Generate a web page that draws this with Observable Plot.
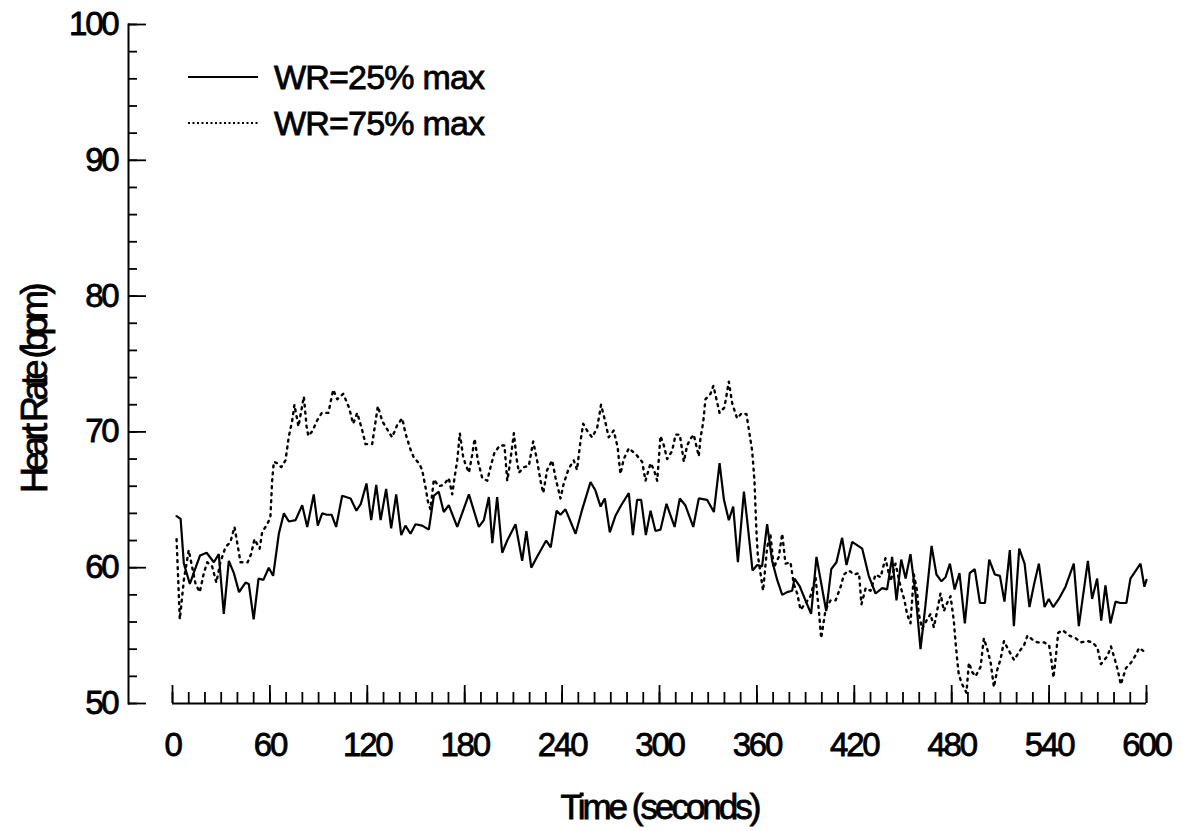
<!DOCTYPE html>
<html>
<head>
<meta charset="utf-8">
<script src="https://cdn.jsdelivr.net/npm/d3@7"></script>
<script src="https://cdn.jsdelivr.net/npm/@observablehq/plot@0.6"></script>
<style>
  body { margin: 0; background: #fff; }
  #wrap { position: relative; width: 1183px; height: 831px; background: #fff;
          font-family: "Liberation Sans", Arial, Helvetica, sans-serif; color: #000; }
  #chart svg text { letter-spacing: -2.2px; stroke: #000; stroke-width: 0.8px; }
  .leg { position: absolute; left: 188px; height: 30px; display: flex; align-items: center;
         font-size: 34px; letter-spacing: -0.8px; white-space: nowrap;
         -webkit-text-stroke: 0.8px #000; }
  .leg svg { margin-right: 16px; }
</style>
</head>
<body>
<div id="wrap">
  <div id="chart"></div>
</div>
<script>
// ---- Data ----
const seriesNames = ["WR=25% max", "WR=75% max"];

// WR = 25% max (solid line)
const time25 = [2.5,5,7,10.7,13,17,21,25.5,28.5,31.6,34.7,37.8,41,45,47,50,53,56,59.3,62,65.5,68.6,71.7,75.8,79.9,83,87,89.5,92.2,95,98,100.8,104.5,109.7,113.3,116,119.5,122.4,125.5,128.2,131.6,134.7,137.8,140.9,143.5,146.6,149.7,153.8,157.9,161,164,167.1,170.2,175.4,182.6,188.7,191.8,194.9,197,200,203.1,206.2,211.3,215.4,218,221,224.6,230.2,233,236.6,239,242.1,248.3,252.4,257.5,260.5,263.7,266.3,269.4,272.8,276.4,281.1,283.6,286.2,288.7,291.6,294.5,297.5,300.6,304.3,309.3,312.5,315.9,320.8,324.2,329.3,333.5,337,339.7,342.7,345.4,348.3,352,354,357.3,360.2,363.2,366.3,369.4,372.5,375.6,378.6,381.7,383.2,386.5,389.9,393.4,396.7,400,402.7,405.8,409,412.5,415.2,418.7,424.9,428.9,433.1,437.2,440.2,443.3,446,448.9,451.6,454.6,457.7,460.8,463.8,467.6,470.6,473.7,476.2,478.9,481.8,484.8,488.1,491.1,494.2,497.4,500.5,503.1,506.6,509.7,512.5,515.8,518.3,521.6,524.9,527.9,530.6,533.7,537.2,539.8,542.5,546,550.1,555.2,558.3,563.9,566.5,569.6,572.1,574.7,577.8,580.9,583.9,587.6,590.1,596.3,598.7,600];
const hr25 = [63.8,63.6,60.3,58.8,59.6,60.9,61.1,60.4,61.0,56.6,60.5,59.6,58.2,58.9,58.8,56.2,59.2,59.1,60.0,59.4,62.5,64.0,63.4,63.5,64.6,63.0,65.4,63.1,64.0,63.9,63.9,63.0,65.3,65.1,64.2,64.7,66.2,63.5,66.1,63.5,65.8,62.9,65.4,62.4,63.1,62.5,63.2,63.1,62.8,65.3,65.6,64.1,64.6,63.0,65.4,63.0,63.5,65.2,61.8,65.2,61.1,62.0,63.2,60.5,62.7,60.0,60.8,62.0,61.5,64.2,63.9,64.3,62.5,64.3,66.3,65.7,64.5,65.1,62.6,63.8,64.6,65.5,62.4,65.0,65.0,62.4,64.2,62.7,62.8,64.7,63.0,65.1,64.6,63.0,65.1,65.0,64.1,67.7,65.0,63.5,64.5,60.4,65.6,63.5,59.8,60.2,60.1,63.2,60.5,59.1,58.0,58.2,58.3,59.2,58.6,57.6,56.6,60.8,58.6,56.8,59.9,60.4,62.2,60.2,61.9,61.4,59.4,58.1,58.5,58.4,60.8,57.6,60.6,59.2,61.0,58.1,54.0,57.2,61.6,59.5,59.0,59.3,60.3,58.4,59.6,55.9,59.6,59.9,57.4,57.4,60.6,59.5,59.4,57.5,61.3,55.7,61.4,60.3,57.1,58.7,60.3,57.1,57.7,57.1,57.7,58.6,60.3,55.7,60.5,57.7,59.2,56.1,58.7,55.9,57.5,57.4,57.4,59.2,60.3,58.6,59.1];

// WR = 75% max (dotted line)
const time75 = [2.5,4.5,7,10,14.2,16.8,19.3,21.4,24.4,27,29.5,32.6,35.7,38.2,40.2,41.9,46.3,48.4,50.5,53.7,55.2,58.3,60.3,61.4,62.4,64.5,67,69.6,71.7,73.7,75.1,77.6,80.9,82.6,83.7,86.4,88.9,92,96,99,101.5,105.2,108.7,111.3,113.8,116.9,118.9,123,126.5,129.2,132.2,135.3,138.4,141.5,143.5,146.6,148.7,151.8,153.8,155.9,157.3,158.9,161,164,167.1,170.2,172.3,173.7,175.4,177,179,180.5,182.6,184.6,186.1,188.1,190.8,193.9,195.9,198.4,201.7,204.5,206.2,207.8,210.3,211.9,213.4,216.4,219.5,222.2,224.6,226.7,228.4,230.8,233.9,236,239,241,244.1,247.2,249.2,251.3,253,255.4,258.5,261.6,264,266.7,268.7,271.8,274.2,275.9,278,281.1,285.8,289.3,291.4,294.5,296.6,298.6,300.6,302.7,304.7,307.8,309.9,312.5,315,317,319.1,321.1,324.2,325.2,326.9,328.3,331.4,333.2,334.9,337,340,342.7,344.8,347.8,350.9,353.6,355,357.1,358.5,359.1,359.7,360.5,362.2,363.8,366.3,368.3,370.4,373.5,375.6,377.6,380.7,382.7,384.8,386.9,390,393,396.1,398.2,399.6,402.3,405.4,408.5,411.6,413.6,416.7,419.8,422.9,424.4,427,430,433.1,436.2,439.2,442.3,445.4,448.5,450.9,452.5,454.6,456.7,458.7,459.7,461.8,464.9,467,469,471,473.1,475.2,477.2,479.3,481.3,482.3,483.4,484.4,486.5,489.1,490.6,492.7,494.7,497.8,499.8,501.9,504,506,508.1,510.2,512.2,514.3,518.4,522.1,524.6,526.7,529.8,532.8,536.9,540,541.1,542.7,544.2,545.6,548.3,552.4,556.5,559.6,563.7,566.8,569.8,571.9,576,578.1,580.1,582.2,584.2,587.3,590.4,593.5,595.5,600];
const hr75 = [62.1,56.2,59.1,61.3,58.8,58.2,59.6,60.4,60.1,58.9,60.4,61.5,61.9,63.0,61.6,60.4,60.4,61.0,62.1,61.4,62.6,63.2,63.7,66.4,67.8,67.7,67.4,67.9,69.7,70.8,72.0,70.4,72.6,70.4,69.7,70.1,70.8,71.4,71.4,73.1,72.4,72.8,71.8,70.6,71.4,70.1,69.1,69.1,71.9,70.8,70.2,69.6,70.5,71.0,69.9,68.7,68.1,67.7,67.2,65.9,64.9,64.3,66.5,66.0,66.1,66.6,65.4,66.6,67.9,69.9,68.2,67.6,67.0,68.3,69.5,67.9,66.6,66.4,67.4,68.5,69.0,69.0,66.4,67.6,69.9,68.1,67.0,67.4,67.5,69.3,67.9,66.4,65.5,67.2,67.9,66.6,65.1,66.2,67.3,67.9,67.2,69.3,70.6,70.1,69.6,70.3,72.0,70.7,69.6,70.1,68.9,66.9,68.0,68.8,68.3,67.8,66.4,67.7,67.2,66.4,69.7,69.0,68.0,68.6,69.8,69.8,67.8,69.0,69.5,69.8,68.2,69.5,70.7,72.4,72.8,73.4,72.5,71.4,71.8,73.7,72.1,71.0,71.4,71.3,70.2,68.6,66.4,64.5,62.7,61.0,59.6,58.3,61.5,62.5,60.0,60.8,62.5,60.3,60.4,58.8,58.1,56.9,57.4,57.9,59.3,56.8,54.8,56.9,57.6,57.6,58.6,59.5,59.8,59.5,59.6,57.3,58.5,58.3,59.5,59.3,60.7,59.0,60.3,58.6,57.6,56.6,55.9,59.5,58.3,56.6,55.5,56.2,56.6,55.6,56.8,58.1,56.8,57.4,57.9,56.1,54.6,53.2,52.1,51.4,50.8,53.0,52.3,52.0,52.7,54.8,54.0,53.0,51.2,52.5,53.3,54.6,54.1,53.2,53.9,54.3,55.0,54.7,54.5,54.5,54.3,53.5,51.9,53.5,55.2,55.4,55.0,54.8,54.5,54.6,54.5,54.1,52.9,53.5,54.2,53.4,52.5,51.4,52.6,53.0,53.6,54.1,53.7];

// Axis ticks
const xMajorTicks = [0, 60, 120, 180, 240, 300, 360, 420, 480, 540, 600];
const xMinorTicks = [0,10,20,30,40,50,60,70,80,90,100,110,120,130,140,150,160,170,180,190,200,210,220,230,240,250,260,270,280,290,300,310,320,330,340,350,360,370,380,390,400,410,420,430,440,450,460,470,480,490,500,510,520,530,540,550,560,570,580,590,600];
const yMajorTicks = [50, 60, 70, 80, 90, 100];
const yMinorTicks = [50,52,54,56,58,60,62,64,66,68,70,72,74,76,78,80,82,84,86,88,90,92,94,96,98,100];
const xTitle = "Time (seconds)";
const yTitle = "Heart Rate (bpm)";

// ---- Build tables ----
const data25 = time25.map((t, i) => ({t, hr: hr25[i], series: seriesNames[0]}));
const data75 = time75.map((t, i) => ({t, hr: hr75[i], series: seriesNames[1]}));
const dashes = ["none", "2,5"];
const widths = [2.2, 2.4];

const FONT = '"Liberation Sans", Arial, Helvetica, sans-serif';

const chart = Plot.plot({
  width: 1183,
  height: 831,
  marginLeft: 128,
  marginRight: 37,
  marginTop: 24,
  marginBottom: 128,
  style: {fontFamily: FONT, background: "white", color: "black", overflow: "visible"},
  x: {domain: [0, 600], insetLeft: 44},
  y: {domain: [50, 100]},
  marks: [
    Plot.frame({anchor: "left", stroke: "black", strokeWidth: 2}),
    Plot.ruleY([50], {x1: 0, x2: 600, stroke: "black", strokeWidth: 2}),
    Plot.axisY({ticks: yMinorTicks, tickSize: 9, dx: 9, fill: "none", label: null, strokeWidth: 1.8}),
    Plot.axisY({ticks: yMajorTicks, tickSize: 18, dx: 18, fill: "none", label: null, strokeWidth: 1.8}),
    Plot.axisY({ticks: yMajorTicks, tickSize: 0, tickPadding: 11, fontSize: 33, label: null}),
    Plot.axisX({ticks: xMinorTicks, tickSize: 11, dy: -11, fill: "none", label: null, strokeWidth: 1.8}),
    Plot.axisX({ticks: xMajorTicks, tickSize: 18, dy: -18, fill: "none", label: null, strokeWidth: 1.8}),
    Plot.axisX({ticks: xMajorTicks, tickSize: 0, tickPadding: 29, fontSize: 33, label: null}),
    Plot.line(data25, {x: "t", y: "hr", stroke: "black", strokeWidth: widths[0], strokeLinejoin: "miter"}),
    Plot.line(data75, {x: "t", y: "hr", stroke: "black", strokeWidth: widths[1], strokeDasharray: dashes[1]}),
    Plot.text([xTitle], {frameAnchor: "bottom", textAnchor: "middle", dx: 22, dy: 104, fontSize: 35, lineAnchor: "middle", text: d => d}),
    Plot.text([yTitle], {frameAnchor: "left", textAnchor: "middle", dx: -93, dy: 26, rotate: -90, fontSize: 36, lineAnchor: "middle", text: d => d})
  ]
});
document.getElementById("chart").appendChild(chart);

// tighter letter spacing on the axis titles
d3.select(chart).selectAll("text")
  .filter(function () { return this.textContent === yTitle; })
  .style("letter-spacing", "-4.5px");
d3.select(chart).selectAll("text")
  .filter(function () { return this.textContent === xTitle; })
  .style("letter-spacing", "-3px");

// ---- Legend (HTML overlay, inside plot area top-left) ----
const wrap = document.getElementById("wrap");
const legTops = [62, 108];
seriesNames.forEach((name, i) => {
  const row = document.createElement("div");
  row.className = "leg";
  row.style.top = legTops[i] + "px";
  row.innerHTML = `<svg width="70" height="30"><line x1="0" x2="70" y1="15" y2="15" stroke="black" stroke-width="2" stroke-dasharray="${i ? "2,2.5" : "none"}"/></svg><span>${name}</span>`;
  wrap.appendChild(row);
});
</script>
</body>
</html>
